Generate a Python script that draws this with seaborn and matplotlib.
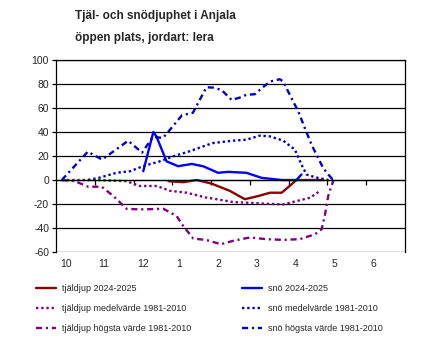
import matplotlib

matplotlib.use("Agg")
import matplotlib.pyplot as plt
import numpy as np
import seaborn as sns

# x = months since 1 Oct, y = cm (frost depth negative)
month_labels = ["10", "11", "12", "1", "2", "3", "4", "5", "6"]
y_ticks = [-60, -40, -20, 0, 20, 40, 60, 80, 100]

tjal_2425_x = [2.90, 3.28, 3.63, 4.01, 4.48, 4.87, 5.21, 5.52, 5.82, 6.07, 6.20, 6.89]
tjal_2425_y = [-1, -1.8, 0, -3, -9, -16, -13.4, -10.6, -10.6, -3.7, 0, 0]

sno_2425_x = [2.25, 2.51, 2.59, 2.85, 3.15, 3.50, 3.80, 4.18, 4.44, 4.91, 5.30, 5.82, 6.20, 6.33]
sno_2425_y = [7.3, 40, 36.3, 15.6, 11.5, 13.4, 11.4, 6, 6.8, 6, 1.8, 0, 0, 4.6]

tjal_medel_x = [0.15, 1.05, 1.82, 2.16, 2.60, 2.94, 3.37, 3.85, 4.14, 4.57, 5.00, 5.43, 5.86, 6.20, 6.55, 6.80]
tjal_medel_y = [0, 0, -1, -5, -5, -9, -10.6, -14.5, -16, -18.4, -19, -19.8, -20.3, -17.6, -14.8, -9.3]

sno_medel_x = [0.83, 1.13, 1.56, 1.91, 2.24, 2.68, 3.02, 3.45, 3.88, 4.05, 4.57, 4.91, 5.26, 5.52,
               5.86, 6.16, 6.33, 6.46, 6.68, 7.02, 7.15]
sno_medel_y = [0, 2, 6, 7.3, 11.5, 15.6, 19.7, 24, 29, 30.8, 32.8, 33.6, 37, 36.3,
               32.8, 25.3, 12.9, 4.6, 2.3, 0, 0]

tjal_max_x = [0.15, 0.49, 0.83, 1.18, 1.48, 1.82, 2.16, 2.77, 3.11, 3.28, 3.54, 3.88, 4.25, 4.57,
              5.00, 5.43, 5.86, 6.29, 6.68, 6.85, 6.93, 7.02, 7.10, 7.15]
tjal_max_y = [0, -1, -5.6, -5.6, -13.4, -24, -24.5, -24, -30, -38.3, -48.8, -50, -53.5, -50.7,
              -47.9, -49.3, -49.9, -49.3, -45.2, -41, -30, -13.4, -5.1, -1]

sno_max_x = [0.15, 0.82, 1.19, 1.86, 2.22, 2.50, 2.76, 3.25, 3.53, 3.88, 4.05, 4.27, 4.53, 4.74,
             4.91, 5.13, 5.30, 5.52, 5.77, 5.86, 6.03, 6.25, 6.42, 6.59, 6.72, 6.89, 7.02, 7.15]
sno_max_y = [0, 23.6, 17, 32.7, 22.8, 36, 35, 54, 56, 77.3, 77, 75, 66.7, 68.7,
             71, 71.5, 76.4, 82, 84, 82, 71, 57, 43, 29.4, 21, 10, 4.6, 0]

RED = "#8b0000"
PURPLE = "#800080"
BLUE = "#0000ff"
DBLUE = "#0000cc"
DOT = (0, (1, 1.2))
DASHDOT = (0, (2.6, 1.6, 0.9, 1.6))


def main() -> None:
    sns.set_style("white")
    plt.rcParams["font.family"] = ["Liberation Sans", "DejaVu Sans"]
    plt.rcParams["axes.unicode_minus"] = False

    fig = plt.figure(figsize=(4.3, 3.52), dpi=100)
    ax = fig.add_axes([56 / 430, 1 - 252 / 352, 349 / 430, 192 / 352])

    series = [
        (tjal_2425_x, tjal_2425_y, RED, "-", "tjäldjup 2024-2025"),
        (tjal_medel_x, tjal_medel_y, PURPLE, DOT, "tjäldjup medelvärde 1981-2010"),
        (tjal_max_x, tjal_max_y, PURPLE, DASHDOT, "tjäldjup högsta värde 1981-2010"),
        (sno_2425_x, sno_2425_y, BLUE, "-", "snö 2024-2025"),
        (sno_medel_x, sno_medel_y, DBLUE, DOT, "snö medelvärde 1981-2010"),
        (sno_max_x, sno_max_y, DBLUE, DASHDOT, "snö högsta värde 1981-2010"),
    ]
    for xs, ys, col, ls, lab in series:
        sns.lineplot(x=xs, y=ys, ax=ax, color=col, linestyle=ls, lw=1.7,
                     label=lab, sort=False, estimator=None)

    ax.set_xlim(0, 9)
    ax.set_ylim(-60, 100)
    ax.set_yticks(y_ticks)
    ax.yaxis.grid(True, color="black", lw=0.9)
    ax.set_axisbelow(True)
    for side in ["left", "right", "top"]:
        ax.spines[side].set_color("black")
        ax.spines[side].set_linewidth(0.9)
    ax.spines["bottom"].set_position(("data", 0))
    ax.spines["bottom"].set_color("black")
    ax.spines["bottom"].set_linewidth(0.9)
    ax.set_xticks(np.arange(1, 9))
    ax.tick_params(axis="x", direction="out", length=3.5, width=0.9, color="black",
                   bottom=True, labelbottom=False)
    ax.tick_params(axis="y", direction="out", length=3, width=0.9, color="black",
                   left=True, labelsize=7.5, pad=2)

    secax = ax.secondary_xaxis(0)
    secax.set_xticks(np.arange(len(month_labels)) + 0.1, labels=month_labels)
    secax.tick_params(length=0, labelsize=7.5, pad=5)
    for lbl in secax.get_xticklabels():
        lbl.set_horizontalalignment("left")
    secax.spines["bottom"].set_visible(False)

    fig.text(75 / 430, 1 - 10 / 352, "Tjäl- och snödjuphet i Anjala\nöppen plats, jordart: lera",
             ha="left", va="top", fontsize=8.5, fontweight="bold", linespacing=2.12)

    handles, labels = ax.get_legend_handles_labels()
    ax.get_legend().remove()
    fig.legend(handles, labels, ncol=2, loc="upper left", frameon=False,
               bbox_to_anchor=(28 / 430, 1 - 276 / 352), fontsize=6.5,
               handlelength=2.2, handletextpad=0.7, columnspacing=5.6, labelspacing=1.22)

    fig.savefig("out.png", dpi=100)
    plt.close(fig)


if __name__ == "__main__":
    main()
